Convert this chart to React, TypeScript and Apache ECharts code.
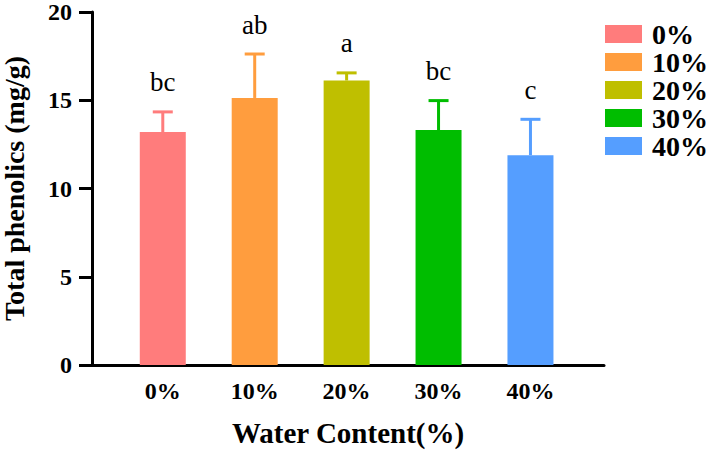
import React, { useEffect, useRef } from "react";
import * as echarts from "echarts";

const categories = ["0%", "10%", "20%", "30%", "40%"];
const means = [13.2, 15.13, 16.12, 13.31, 11.89];
const uppers = [14.34, 17.62, 16.55, 14.98, 13.92];
const letters = ["bc", "ab", "a", "bc", "c"];
const colors = ["#FF7C7C", "#FF9D3E", "#BFBF00", "#00BD00", "#559EFF"];
const yTicks = [0, 5, 10, 15, 20];

const FONT = '"Liberation Serif", "Times New Roman", serif';

export default function App() {
  const ref = useRef<HTMLDivElement>(null);
  useEffect(() => {
    document.body.style.margin = "0";
    if (!ref.current) return;
    const chart = echarts.init(ref.current, null, { renderer: "svg" });
    const barSeries = categories.map((c, i) => ({
      name: c,
      type: "bar",
      stack: "all",
      barWidth: 46,
      data: [[i, means[i]]],
      itemStyle: { color: colors[i] },
    }));
    const errData = categories.map((c, i) => [i, means[i], uppers[i]]);
    chart.setOption({
      animation: false,
      grid: {
        left: 92,
        right: 104,
        top: 12,
        bottom: 85,
        containLabel: false,
        outerBoundsMode: "none",
      },
      legend: {
        orient: "vertical",
        left: 605,
        top: 20,
        padding: 0,
        itemGap: 0,
        itemWidth: 37,
        itemHeight: 18,
        icon: "rect",
        data: categories,
        textStyle: {
          fontFamily: FONT,
          fontWeight: "bold",
          fontSize: 28,
          color: "#000",
          lineHeight: 27,
          padding: [0, 0, 0, 5],
        },
      },
      xAxis: {
        type: "value",
        min: -0.77,
        max: 4.8,
        splitLine: { show: false },
        axisTick: { show: false },
        axisLine: { show: true, onZero: false, lineStyle: { color: "#000", width: 3 } },
        axisLabel: {
          customValues: [0, 1, 2, 3, 4],
          formatter: (v: number) => categories[Math.round(v)] ?? "",
          fontFamily: FONT,
          fontWeight: "bold",
          fontSize: 24,
          color: "#000",
          margin: 14,
        },
        name: "Water Content(%)",
        nameLocation: "middle",
        nameGap: 53,
        nameTextStyle: { fontFamily: FONT, fontWeight: "bold", fontSize: 29, color: "#000" },
      },
      yAxis: {
        type: "value",
        min: yTicks[0],
        max: yTicks[yTicks.length - 1],
        interval: 5,
        splitLine: { show: false },
        axisLine: { show: true, onZero: false, lineStyle: { color: "#000", width: 3 } },
        axisTick: { show: true, length: 13, lineStyle: { color: "#000", width: 3 } },
        axisLabel: {
          fontFamily: FONT,
          fontWeight: "bold",
          fontSize: 24,
          color: "#000",
          margin: 20,
        },
        name: "Total phenolics (mg/g)",
        nameLocation: "middle",
        nameRotate: 90,
        nameGap: 64,
        nameTextStyle: { fontFamily: FONT, fontWeight: "bold", fontSize: 28, color: "#000" },
      },
      series: [
        ...barSeries,
        {
          name: "error",
          type: "custom",
          data: errData,
          encode: { x: 0, y: [1, 2] },
          z: 5,
          renderItem: (params: any, api: any) => {
            const idx = params.dataIndex;
            const i = api.value(0);
            const p0 = api.coord([i, api.value(1)]);
            const p1 = api.coord([i, api.value(2)]);
            const color = colors[idx];
            return {
              type: "group",
              children: [
                {
                  type: "line",
                  shape: { x1: p0[0], y1: p0[1], x2: p1[0], y2: p1[1] },
                  style: { stroke: color, lineWidth: 3 },
                },
                {
                  type: "line",
                  shape: { x1: p1[0] - 10, y1: p1[1], x2: p1[0] + 10, y2: p1[1] },
                  style: { stroke: color, lineWidth: 3 },
                },
                {
                  type: "text",
                  x: p1[0],
                  y: p1[1] - 16,
                  style: {
                    text: letters[idx],
                    fill: "#000",
                    fontFamily: FONT,
                    fontSize: 27,
                    align: "center",
                    verticalAlign: "bottom",
                  },
                },
              ],
            };
          },
        },
      ],
    });
    return () => chart.dispose();
  }, []);
  return <div ref={ref} style={{ width: 708, height: 450 }} />;
}
